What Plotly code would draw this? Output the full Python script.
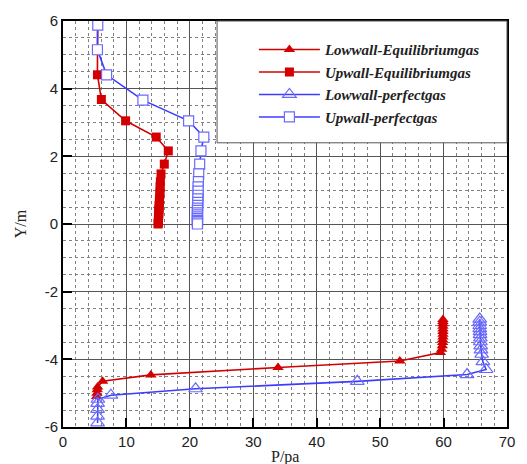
import plotly.graph_objects as go

# ---- data ----
low_eq_P = [5.3, 5.35, 5.4, 5.45, 6.25, 13.85, 33.9, 53.1, 59.5, 59.7, 59.8, 59.85, 59.85,
            59.9, 59.9, 59.9, 59.9, 59.9, 59.9, 59.9, 59.9]
low_eq_Y = [-5.1, -5.0, -4.9, -4.82, -4.65, -4.46, -4.24, -4.05, -3.8, -3.7, -3.6, -3.5, -3.42,
            -3.34, -3.26, -3.18, -3.1, -3.02, -2.95, -2.88, -2.82]

up_eq_P = [5.45, 5.4, 5.43, 6.05, 9.87, 14.7, 16.6, 15.97, 15.45,
           15.35, 15.3, 15.3, 15.25, 15.2, 15.2, 15.15, 15.15, 15.1, 15.1, 15.1, 15.05,
           15.05, 15.05, 15.05, 15.0, 15.0]
up_eq_Y = [5.88, 5.15, 4.41, 3.68, 3.05, 2.57, 2.16, 1.77, 1.48,
           1.25, 1.1, 0.97, 0.85, 0.74, 0.64, 0.55, 0.47, 0.40, 0.33, 0.27, 0.21,
           0.16, 0.11, 0.07, 0.03, 0.0]

low_pf_P = [5.45, 5.45, 5.45, 5.45, 5.5, 7.55, 20.9, 46.4, 63.7, 66.7, 66.2, 66.0, 65.9,
            65.85, 65.8, 65.8, 65.75, 65.75, 65.7, 65.7, 65.7, 65.7]
low_pf_Y = [-5.88, -5.68, -5.48, -5.3, -5.18, -5.06, -4.87, -4.65, -4.45, -4.3, -4.07, -3.85, -3.72,
            -3.6, -3.48, -3.37, -3.27, -3.18, -3.09, -3.0, -2.9, -2.81]

up_pf_P = [5.48, 5.43, 6.87, 12.6, 19.8, 22.2, 21.75, 21.55, 21.4,
           21.35, 21.3, 21.3, 21.3, 21.25, 21.25, 21.25, 21.2, 21.2, 21.2, 21.2, 21.2,
           21.2, 21.2, 21.2, 21.2, 21.2]
up_pf_Y = [5.88, 5.15, 4.41, 3.66, 3.05, 2.57, 2.16, 1.77, 1.48,
           1.25, 1.1, 0.97, 0.85, 0.74, 0.64, 0.55, 0.47, 0.40, 0.33, 0.27, 0.21,
           0.16, 0.11, 0.07, 0.03, 0.0]

names = ["Lowwall-Equilibriumgas", "Upwall-Equilibriumgas",
         "Lowwall-perfectgas", "Upwall-perfectgas"]

x_ticks = [0, 10, 20, 30, 40, 50, 60, 70]
x_ticklabels = ["0", "10", "20", "30", "40", "50", "60", "70"]
y_ticks = [-6, -4, -2, 0, 2, 4, 6]
y_ticklabels = ["-6", "-4", "-2", "0", "2", "4", "6"]

RED = "#d40000"
BLUE = "#3c3cff"
BLUE_M = "#6a6aff"

fig = go.Figure()
fig.add_trace(go.Scatter(x=low_eq_P, y=low_eq_Y, name=names[0], mode="lines+markers",
                         line=dict(color=RED, width=1.6),
                         marker=dict(symbol="triangle-up", size=10, color=RED)))
fig.add_trace(go.Scatter(x=up_eq_P, y=up_eq_Y, name=names[1], mode="lines+markers",
                         line=dict(color=RED, width=1.6),
                         marker=dict(symbol="square", size=9, color=RED)))
fig.add_trace(go.Scatter(x=low_pf_P, y=low_pf_Y, name=names[2], mode="lines+markers",
                         line=dict(color=BLUE, width=1.6),
                         marker=dict(symbol="triangle-up-open", size=12, color=BLUE_M,
                                     line=dict(width=1.2))))
fig.add_trace(go.Scatter(x=up_pf_P, y=up_pf_Y, name=names[3], mode="lines+markers",
                         line=dict(color=BLUE, width=1.6),
                         marker=dict(symbol="square", size=10, color="white",
                                     line=dict(color=BLUE_M, width=1.2))))

# legend box
fig.add_shape(type="rect", xref="paper", yref="paper", x0=0.347, x1=1.0, y0=0.70, y1=1.0,
              fillcolor="white", line=dict(color="#555555", width=1), layer="above")

axis_common = dict(showline=True, linecolor="black", linewidth=2, mirror=True,
                   ticks="inside", ticklen=9, tickwidth=2, tickcolor="black",
                   showgrid=True, gridcolor="#555555", gridwidth=1, zeroline=False,
                   tickfont=dict(family="Liberation Sans, Arial", size=15, color="#222222"))

fig.update_xaxes(range=[0, 70], tickmode="array", tickvals=x_ticks, ticktext=x_ticklabels,
                 minor=dict(dtick=2, tick0=0, showgrid=True, gridcolor="#808080", griddash="dot",
                            gridwidth=1, ticks=""),
                 **axis_common)
fig.update_yaxes(range=[-6, 6], tickmode="array", tickvals=y_ticks, ticktext=y_ticklabels,
                 minor=dict(dtick=0.5, tick0=0, showgrid=True, gridcolor="#808080", griddash="dot",
                            gridwidth=1, ticks=""),
                 **axis_common)

fig.add_annotation(text="Y/m", xref="paper", yref="paper", x=-0.12, y=0.5, textangle=-90,
                   showarrow=False, font=dict(family="Liberation Serif", size=16, color="#222222"))
fig.add_annotation(text="P/pa", xref="paper", yref="paper", x=0.5, y=-0.075, yanchor="middle",
                   showarrow=False, font=dict(family="Liberation Serif", size=16, color="#222222"))

fig.update_layout(
    width=527, height=464,
    margin=dict(l=63, r=12, t=14, b=37),
    plot_bgcolor="white", paper_bgcolor="white",
    legend=dict(x=0.43, y=0.97, xanchor="left", yanchor="top",
                bgcolor="rgba(0,0,0,0)", borderwidth=0,
                font=dict(family="Liberation Serif", size=15, color="#222222",
                          weight="bold", style="italic"),
                itemwidth=61, tracegroupgap=0),
)

fig.write_html("out.html")
